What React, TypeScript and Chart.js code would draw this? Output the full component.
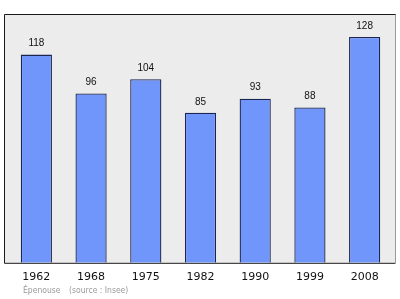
import React, { useEffect, useRef } from "react";
import { Chart, registerables } from "chart.js";

Chart.register(...registerables);

const years = ["1962", "1968", "1975", "1982", "1990", "1999", "2008"];
const population = [118, 96, 104, 85, 93, 88, 128];
const commune = "Épenouse";
const source = "(source : Insee)";

// Grey panel with a thin frame behind the bars
const framePlugin = {
  id: "frame",
  beforeDraw(chart: any) {
    const { ctx, chartArea } = chart;
    const left = chartArea.left - 5;
    const right = chartArea.right + 3;
    const top = chartArea.top;
    const bottom = chartArea.bottom;
    ctx.save();
    ctx.fillStyle = "#ececec";
    ctx.fillRect(left, top, right - left, bottom - top);
    ctx.lineWidth = 1;
    ctx.strokeStyle = "#9a9a9a";
    ctx.beginPath();
    ctx.moveTo(right + 0.5, top);
    ctx.lineTo(right + 0.5, bottom);
    ctx.stroke();
    ctx.strokeStyle = "#1a1a1a";
    ctx.beginPath();
    ctx.moveTo(right + 0.5, top + 0.5);
    ctx.lineTo(left + 0.5, top + 0.5);
    ctx.lineTo(left + 0.5, bottom + 0.5);
    ctx.lineTo(right + 0.5, bottom + 0.5);
    ctx.stroke();
    ctx.restore();
  },
};

// Population figure above each bar, plus the caption line
const labelPlugin = {
  id: "valueLabels",
  afterDatasetsDraw(chart: any) {
    const { ctx } = chart;
    const meta = chart.getDatasetMeta(0);
    ctx.save();
    ctx.font = "10px 'Liberation Sans', Arial, sans-serif";
    ctx.fillStyle = "#111";
    ctx.textAlign = "center";
    ctx.textBaseline = "middle";
    meta.data.forEach((bar: any, i: number) => {
      ctx.fillText(String(population[i]), bar.x, bar.y - 11);
    });
    ctx.font = "8.5px 'DejaVu Sans Condensed', 'DejaVu Sans', sans-serif";
    ctx.fillStyle = "#9a9a9a";
    ctx.textAlign = "left";
    const base = chart.chartArea.bottom + 28;
    ctx.fillText(commune, chart.chartArea.left + 14, base);
    ctx.fillText(source, chart.chartArea.left + 60, base);
    ctx.restore();
  },
};

export default function App() {
  const canvasRef = useRef<HTMLCanvasElement | null>(null);

  useEffect(() => {
    if (!canvasRef.current) return;
    const chart = new Chart(canvasRef.current, {
      type: "bar",
      data: {
        labels: years,
        datasets: [
          {
            data: population,
            backgroundColor: "#7096fc",
            borderColor: "#1c2550",
            borderWidth: 1.3,
            borderSkipped: "bottom",
            barPercentage: 0.57,
            categoryPercentage: 1,
          },
        ],
      },
      options: {
        responsive: false,
        animation: false,
        layout: { padding: { left: 9, right: 8, top: 14, bottom: 7 } },
        plugins: {
          legend: { display: false },
          tooltip: { enabled: false },
        },
        scales: {
          x: {
            grid: { display: false, drawTicks: false },
            border: { display: false },
            ticks: {
              padding: 8,
              color: "#111",
              font: { family: "'DejaVu Sans', sans-serif", size: 11 },
            },
          },
          y: {
            display: false,
            min: 0,
            max: 141,
          },
        },
      },
      plugins: [framePlugin, labelPlugin],
    });
    return () => chart.destroy();
  }, []);

  return (
    <div style={{ position: "absolute", left: 0, top: 0, width: 400, height: 299, background: "#fff" }}>
      <canvas ref={canvasRef} width={400} height={299} />
    </div>
  );
}
